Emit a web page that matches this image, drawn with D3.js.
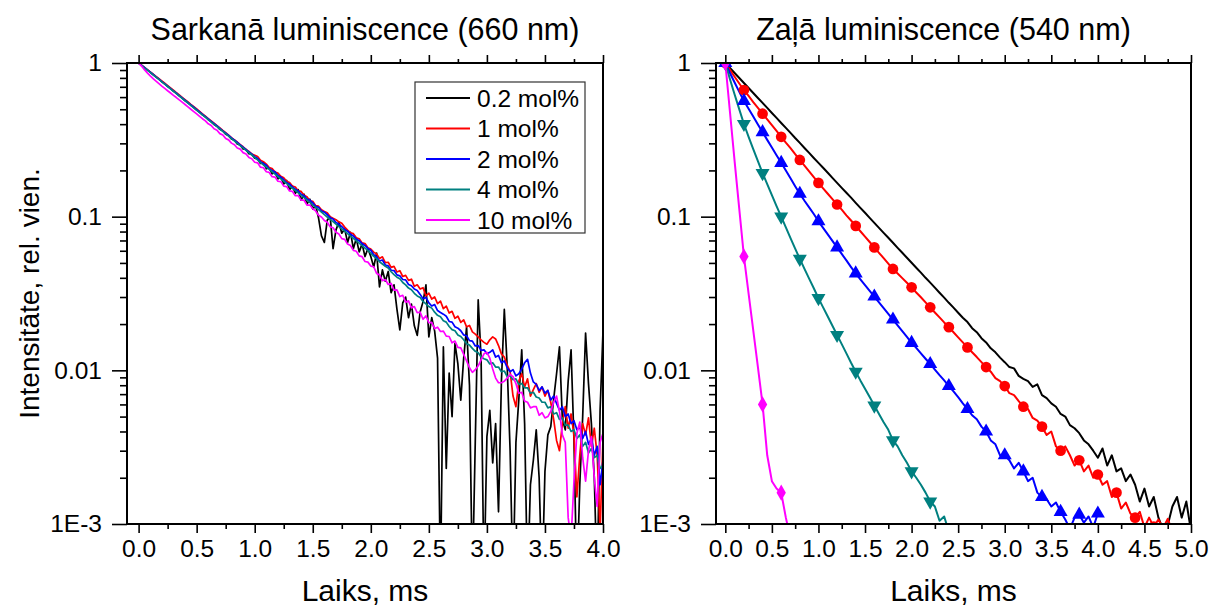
<!DOCTYPE html>
<meta charset="utf-8">
<style>
body { margin: 0; background: #fff; }
#chart svg text { font-family: "Liberation Sans", Arial, sans-serif; fill: #000; }
</style>
<div id="chart"></div>
<script src="https://d3js.org/d3.v7.min.js"></script>
<script>
// ---- data: left panel (red luminescence), sampled every 0.025 ms ----
var stepL = 0.025;
var black660 = [1, 0.967, 0.934, 0.903, 0.871, 0.842, 0.813, 0.786, 0.757, 0.733,
  0.706, 0.683, 0.657, 0.637, 0.612, 0.594, 0.57, 0.553, 0.531, 0.515,
  0.494, 0.48, 0.46, 0.447, 0.428, 0.416, 0.398, 0.388, 0.37, 0.362,
  0.344, 0.337, 0.32, 0.315, 0.297, 0.293, 0.276, 0.274, 0.257, 0.255,
  0.24, 0.238, 0.222, 0.225, 0.205, 0.208, 0.19, 0.196, 0.176, 0.182,
  0.163, 0.172, 0.15, 0.158, 0.142, 0.15, 0.128, 0.14, 0.121, 0.13,
  0.112, 0.118, 0.098, 0.075, 0.068, 0.095, 0.1, 0.062, 0.082, 0.092,
  0.078, 0.083, 0.068, 0.079, 0.062, 0.072, 0.059, 0.0665, 0.055, 0.062,
  0.055, 0.047, 0.058, 0.0349, 0.045, 0.038, 0.044, 0.032, 0.036, 0.025,
  0.0183, 0.0275, 0.03, 0.022, 0.027, 0.0195, 0.0169, 0.024, 0.028, 0.036,
  0.0165, 0.022, 0.018, 0.012, 0.0004, 0.0142, 0.0023, 0.0096, 0.005, 0.015,
  0.011, 0.0064, 0.012, 0.0191, 0.008, 0.0004, 0.0035, 0.0287, 0.012, 0.0004,
  0.0037, 0.0055, 0.0025, 0.0045, 0.0012, 0.0085, 0.0249, 0.0105, 0.003, 0.0004,
  0.0034, 0.0065, 0.0136, 0.0045, 0.0004, 0.0018, 0.0026, 0.0041, 0.002, 0.0004,
  0.0022, 0.0038, 0.0043, 0.0065, 0.0095, 0.0142, 0.0048, 0.0041, 0.0085, 0.0136,
  0.0035, 0.0004, 0.0018, 0.005, 0.0175, 0.0082, 0.0045, 0.002, 0.0004, 0.0055, 0.018];
var red660 = [1, 0.968, 0.936, 0.905, 0.875, 0.846, 0.818, 0.79, 0.764, 0.738,
  0.713, 0.688, 0.665, 0.642, 0.62, 0.598, 0.578, 0.558, 0.538, 0.52,
  0.502, 0.484, 0.467, 0.451, 0.435, 0.42, 0.406, 0.391, 0.378, 0.364,
  0.352, 0.339, 0.327, 0.316, 0.306, 0.294, 0.285, 0.274, 0.266, 0.256,
  0.251, 0.246, 0.233, 0.228, 0.22, 0.209, 0.206, 0.195, 0.192, 0.183,
  0.179, 0.17, 0.167, 0.158, 0.156, 0.147, 0.146, 0.138, 0.135, 0.127,
  0.126, 0.118, 0.117, 0.111, 0.108, 0.106, 0.1, 0.0975, 0.0955, 0.0925,
  0.0905, 0.0855, 0.0818, 0.0785, 0.0775, 0.0728, 0.0718, 0.0675, 0.0668, 0.0628,
  0.0615, 0.0588, 0.0572, 0.0535, 0.0548, 0.0502, 0.0505, 0.0468, 0.0475, 0.0436,
  0.0445, 0.0408, 0.0415, 0.0385, 0.0392, 0.0352, 0.036, 0.0338, 0.0345, 0.0305,
  0.0318, 0.0291, 0.03, 0.0272, 0.0282, 0.0252, 0.0262, 0.0236, 0.0242, 0.0218,
  0.0225, 0.0205, 0.0213, 0.0192, 0.0196, 0.0178, 0.0172, 0.0165, 0.0158, 0.0152,
  0.0148, 0.0158, 0.0165, 0.016, 0.0145, 0.0128, 0.0122, 0.0108, 0.0098, 0.0068,
  0.0058, 0.0085, 0.0095, 0.0078, 0.0088, 0.0068, 0.0075, 0.0082, 0.0072, 0.0078,
  0.0068, 0.0074, 0.0062, 0.0048, 0.0035, 0.003, 0.0045, 0.0058, 0.0042, 0.0052,
  0.0038, 0.0015, 0.0028, 0.0045, 0.0038, 0.0049, 0.0032, 0.0042, 0.0028, 0.0009, 0.0036];
var blue660 = [1, 0.966, 0.935, 0.902, 0.872, 0.842, 0.812, 0.785, 0.757, 0.731,
  0.706, 0.681, 0.658, 0.636, 0.614, 0.592, 0.572, 0.552, 0.533, 0.515,
  0.497, 0.48, 0.463, 0.447, 0.432, 0.417, 0.403, 0.389, 0.375, 0.362,
  0.35, 0.338, 0.326, 0.315, 0.304, 0.293, 0.283, 0.273, 0.264, 0.255,
  0.246, 0.239, 0.228, 0.222, 0.216, 0.205, 0.2, 0.195, 0.185, 0.181,
  0.174, 0.166, 0.163, 0.156, 0.151, 0.147, 0.14, 0.137, 0.13, 0.128,
  0.123, 0.117, 0.115, 0.109, 0.107, 0.103, 0.0985, 0.0965, 0.0915, 0.0895,
  0.0862, 0.0825, 0.0805, 0.0768, 0.0748, 0.0715, 0.0698, 0.0668, 0.065, 0.0622,
  0.0605, 0.0565, 0.0548, 0.0515, 0.0522, 0.0485, 0.0478, 0.0448, 0.0446, 0.0418,
  0.0412, 0.039, 0.0388, 0.0362, 0.0355, 0.0338, 0.0331, 0.0312, 0.0292, 0.0298,
  0.0275, 0.0262, 0.0268, 0.0245, 0.0238, 0.0232, 0.0225, 0.0208, 0.0206, 0.0192,
  0.0188, 0.0181, 0.017, 0.0168, 0.0156, 0.0155, 0.0144, 0.0145, 0.0135, 0.0136,
  0.0128, 0.0131, 0.0136, 0.0122, 0.0125, 0.0112, 0.0115, 0.0104, 0.0098, 0.0101,
  0.0092, 0.0095, 0.0102, 0.0112, 0.0118, 0.0096, 0.0084, 0.0081, 0.0074, 0.0078,
  0.0071, 0.0074, 0.0064, 0.0068, 0.0061, 0.0055, 0.0058, 0.005, 0.0052, 0.0045,
  0.0047, 0.0041, 0.0043, 0.0036, 0.004, 0.0033, 0.0036, 0.0028, 0.0032, 0.0018, 0.0026];
var teal660 = [1, 0.965, 0.93, 0.9, 0.868, 0.838, 0.81, 0.782, 0.754, 0.728,
  0.703, 0.678, 0.655, 0.632, 0.611, 0.589, 0.568, 0.549, 0.53, 0.511,
  0.493, 0.476, 0.46, 0.444, 0.428, 0.413, 0.399, 0.385, 0.372, 0.359,
  0.346, 0.334, 0.322, 0.311, 0.3, 0.29, 0.28, 0.27, 0.261, 0.252,
  0.242, 0.234, 0.225, 0.217, 0.21, 0.203, 0.196, 0.189, 0.182, 0.176,
  0.17, 0.164, 0.158, 0.153, 0.148, 0.143, 0.137, 0.133, 0.128, 0.124,
  0.119, 0.115, 0.111, 0.107, 0.103, 0.0995, 0.096, 0.0928, 0.0895, 0.0862,
  0.0833, 0.0805, 0.0775, 0.0748, 0.0722, 0.0697, 0.0672, 0.0648, 0.0625, 0.0603,
  0.0578, 0.0552, 0.0533, 0.0509, 0.0492, 0.0475, 0.0463, 0.0438, 0.0419, 0.0404,
  0.0394, 0.0373, 0.036, 0.0343, 0.0335, 0.0317, 0.0305, 0.0298, 0.0281, 0.0271,
  0.026, 0.0254, 0.0239, 0.0228, 0.0223, 0.021, 0.0206, 0.0193, 0.0184, 0.0181,
  0.017, 0.0166, 0.0158, 0.0149, 0.0146, 0.0139, 0.0133, 0.013, 0.0122, 0.0119,
  0.0117, 0.011, 0.0112, 0.0105, 0.0105, 0.0098, 0.0099, 0.0091, 0.0092, 0.0087,
  0.0088, 0.0081, 0.0082, 0.0077, 0.0077, 0.0071, 0.0072, 0.0067, 0.0066, 0.0062,
  0.0062, 0.0057, 0.0058, 0.0052, 0.0053, 0.0048, 0.0049, 0.0044, 0.0044, 0.004,
  0.0041, 0.0036, 0.0038, 0.0032, 0.0034, 0.0029, 0.0031, 0.0027, 0.0028, 0.0023, 0.0024];
var magenta660 = [1, 0.955, 0.905, 0.862, 0.824, 0.792, 0.762, 0.735, 0.708, 0.684,
  0.66, 0.638, 0.616, 0.596, 0.575, 0.556, 0.537, 0.518, 0.5, 0.483,
  0.466, 0.45, 0.434, 0.42, 0.402, 0.392, 0.373, 0.365, 0.347, 0.34,
  0.323, 0.316, 0.301, 0.294, 0.28, 0.275, 0.261, 0.256, 0.243, 0.238,
  0.226, 0.224, 0.21, 0.208, 0.196, 0.194, 0.182, 0.181, 0.17, 0.169,
  0.158, 0.157, 0.147, 0.146, 0.137, 0.137, 0.128, 0.128, 0.119, 0.119,
  0.1125, 0.109, 0.102, 0.0994, 0.0945, 0.0919, 0.0858, 0.0847, 0.0791, 0.0772,
  0.072, 0.0712, 0.0663, 0.0648, 0.0604, 0.0596, 0.0556, 0.0549, 0.0511, 0.0506,
  0.0477, 0.0472, 0.0427, 0.0418, 0.0383, 0.039, 0.0362, 0.0368, 0.0333, 0.0334,
  0.0302, 0.0308, 0.0278, 0.0283, 0.0255, 0.026, 0.0237, 0.0239, 0.0215, 0.0226,
  0.0204, 0.0205, 0.0187, 0.0191, 0.0179, 0.018, 0.0167, 0.0166, 0.0151, 0.0155,
  0.0141, 0.014, 0.0127, 0.0115, 0.0104, 0.0097, 0.0101, 0.0107, 0.0117, 0.0128,
  0.0131, 0.012, 0.0102, 0.0089, 0.0083, 0.0083, 0.0085, 0.0089, 0.0094, 0.0091,
  0.0082, 0.0071, 0.0072, 0.0063, 0.0062, 0.0057, 0.0058, 0.0058, 0.0051, 0.0053,
  0.0049, 0.005, 0.0054, 0.0062, 0.0068, 0.0054, 0.0038, 0.0034, 0.0011, 0.0008,
  0.0019, 0.0039, 0.0046, 0.0027, 0.0019, 0.003, 0.0037, 0.002, 0.0013, 0.0034, 0.0039];

// ---- data: right panel (green luminescence), sampled every 0.05 ms ----
var stepR = 0.05;
var black540 = [1, 0.928, 0.861, 0.799, 0.741, 0.688, 0.638, 0.592, 0.55, 0.51,
  0.473, 0.439, 0.407, 0.378, 0.351, 0.325, 0.302, 0.28, 0.26, 0.241,
  0.224, 0.208, 0.193, 0.179, 0.166, 0.154, 0.143, 0.133, 0.123, 0.114,
  0.106, 0.0983, 0.0912, 0.0846, 0.0785, 0.0729, 0.0676, 0.0627, 0.0582, 0.054,
  0.0501, 0.0465, 0.0432, 0.04, 0.0372, 0.0345, 0.032, 0.0297, 0.0275, 0.0256,
  0.0237, 0.022, 0.0206, 0.0188, 0.0177, 0.0162, 0.0152, 0.0139, 0.0131, 0.0121,
  0.0113, 0.0105, 0.0103, 0.0092, 0.0088, 0.0085, 0.0078, 0.0081, 0.0069, 0.0066,
  0.0061, 0.0058, 0.0052, 0.005, 0.0044, 0.0042, 0.0039, 0.0035, 0.0033, 0.003,
  0.0027, 0.0031, 0.0024, 0.0028, 0.0022, 0.0023, 0.0019, 0.0021, 0.0018, 0.0014,
  0.0017, 0.0013, 0.0015, 0.0011, 0.00092, 0.00098, 0.0013, 0.0015, 0.0011, 0.0014, 0.0009];
var red540 = [1, 0.902, 0.813, 0.736, 0.667, 0.61, 0.557, 0.511, 0.468, 0.429,
  0.394, 0.361, 0.331, 0.303, 0.279, 0.255, 0.234, 0.215, 0.197, 0.181,
  0.166, 0.153, 0.141, 0.13, 0.12, 0.111, 0.102, 0.0944, 0.0871, 0.0804,
  0.0741, 0.0684, 0.0631, 0.0582, 0.0537, 0.0495, 0.0457, 0.0427, 0.0398, 0.0372,
  0.0347, 0.0321, 0.0299, 0.0277, 0.0257, 0.0238, 0.0221, 0.0205, 0.0191, 0.0177,
  0.0164, 0.0152, 0.0141, 0.0131, 0.0122, 0.0113, 0.0105, 0.0098, 0.0089, 0.0085,
  0.0079, 0.0071, 0.0069, 0.0063, 0.0058, 0.0056, 0.0049, 0.0047, 0.0043, 0.0038,
  0.004, 0.0032, 0.003, 0.0032, 0.0028, 0.0024, 0.0026, 0.0022, 0.0024, 0.002,
  0.0021, 0.0018, 0.0019, 0.0015, 0.0016, 0.00126, 0.00138, 0.00117, 0.0011, 0.0012,
  0.00095, 0.0011, 0.00096, 0.00107, 0.00094, 0.00108, 0.0009];
var blue540 = [1, 0.861, 0.746, 0.649, 0.566, 0.504, 0.448, 0.398, 0.355, 0.316,
  0.282, 0.251, 0.224, 0.2, 0.178, 0.158, 0.141, 0.127, 0.115, 0.104,
  0.0933, 0.0846, 0.0767, 0.0695, 0.0631, 0.0572, 0.0519, 0.047, 0.0427, 0.0391,
  0.0359, 0.0329, 0.0302, 0.0277, 0.0254, 0.0233, 0.0214, 0.0196, 0.018, 0.0165,
  0.0151, 0.014, 0.0129, 0.0119, 0.011, 0.0101, 0.0093, 0.0086, 0.0079, 0.0073,
  0.0067, 0.0061, 0.0056, 0.0051, 0.0048, 0.0043, 0.004, 0.0035, 0.0033, 0.0028,
  0.0028, 0.0026, 0.0023, 0.0025, 0.0022, 0.0019, 0.002, 0.0016, 0.0015, 0.00145,
  0.0013, 0.00138, 0.0012, 0.00107, 0.00093, 0.0011, 0.00115, 0.00102, 0.00112, 0.00095, 0.00117];
var teal540 = [1, 0.785, 0.624, 0.499, 0.401, 0.331, 0.275, 0.23, 0.192, 0.163,
  0.138, 0.117, 0.1, 0.0851, 0.0724, 0.0619, 0.0531, 0.0457, 0.0395, 0.0342,
  0.0295, 0.0257, 0.0224, 0.0195, 0.017, 0.0148, 0.0129, 0.0112, 0.0098, 0.0086,
  0.0076, 0.0067, 0.0059, 0.0052, 0.0046, 0.0041, 0.0035, 0.0032, 0.0028, 0.0025,
  0.0022, 0.002, 0.0018, 0.0016, 0.0014, 0.0013, 0.00105, 0.00112, 0.00089];
var magenta540 = [1, 0.479, 0.229, 0.112, 0.055, 0.0316, 0.0182, 0.0105, 0.006, 0.0028,
  0.0019, 0.0017, 0.0016, 0.0011, 0.0008];

var seriesNames = ["0.2 mol%", "1 mol%", "2 mol%", "4 mol%", "10 mol%"];
var seriesColors = ["#000000", "#ff0000", "#0000ff", "#008080", "#ff00ff"];
var markerTypes = [null, d3.symbolCircle, d3.symbolTriangle, "down", d3.symbolDiamond];

var yTickVals = [1, 0.1, 0.01, 0.001];
var yTickLabels = ["1", "0.1", "0.01", "1E-3"];
var xMajorLeft = [0, 0.5, 1, 1.5, 2, 2.5, 3, 3.5, 4];
var xMajorRight = [0, 0.5, 1, 1.5, 2, 2.5, 3, 3.5, 4, 4.5, 5];
var xMinorLeft = [0.25, 0.75, 1.25, 1.75, 2.25, 2.75, 3.25, 3.75];
var xMinorRight = [0.25, 0.75, 1.25, 1.75, 2.25, 2.75, 3.25, 3.75, 4.25, 4.75];

var W = 1210, H = 606;
var top_ = 63, bottom_ = 524;

var svg = d3.select("#chart").append("svg")
  .attr("width", W).attr("height", H);

var y = d3.scaleLog().domain([0.001, 1]).range([bottom_, top_]);
var yMinor = y.ticks().filter(function(d) { return yTickVals.indexOf(d) < 0; });

function drawPanel(cfg) {
  var x = d3.scaleLinear().domain([-0.1, cfg.xmax]).range([cfg.x0, cfg.x1]);
  var g = svg.append("g");

  g.append("clipPath").attr("id", cfg.id + "-clip")
    .append("rect")
    .attr("x", cfg.x0).attr("y", top_)
    .attr("width", cfg.x1 - cfg.x0).attr("height", bottom_ - top_);

  var plot = g.append("g").attr("clip-path", "url(#" + cfg.id + "-clip)");
  var line = d3.line()
    .x(function(d, i) { return x(i * cfg.step); })
    .y(function(d) { return y(d); });

  cfg.series.forEach(function(s, k) {
    plot.append("path")
      .datum(s)
      .attr("fill", "none")
      .attr("stroke", seriesColors[k])
      .attr("stroke-width", cfg.lw)
      .attr("stroke-linejoin", "round")
      .attr("d", line);
  });

  if (cfg.markers) {
    cfg.series.forEach(function(s, k) {
      var type = markerTypes[k];
      if (!type) return;
      var flip = type === "down";
      var sym = d3.symbol()
        .type(flip ? d3.symbolTriangle : type)
        .size(type === d3.symbolCircle ? 90 : (type === d3.symbolDiamond ? 75 : 85));
      var pts = s.map(function(v, i) { return [i * cfg.step, v, i]; })
        .filter(function(p) { return p[2] % 4 === 0; });
      plot.selectAll(null)
        .data(pts)
        .enter()
        .append("path")
        .attr("d", sym)
        .attr("fill", seriesColors[k])
        .attr("transform", function(p) {
          return "translate(" + x(p[0]) + "," + y(p[1]) + ")" + (flip ? " rotate(180)" : "");
        });
    });
  }

  // axes
  var fmt = d3.format(".1f");
  var axB = g.append("g").attr("transform", "translate(0," + bottom_ + ")")
    .call(d3.axisBottom(x).tickValues(cfg.major).tickSize(9).tickPadding(7).tickFormat(fmt));
  var axBm = g.append("g").attr("transform", "translate(0," + bottom_ + ")")
    .call(d3.axisBottom(x).tickValues(cfg.minor).tickSize(5).tickFormat(""));
  var axT = g.append("g").attr("transform", "translate(0," + top_ + ")")
    .call(d3.axisTop(x).tickValues(cfg.major).tickSize(8).tickFormat(""));
  var axTm = g.append("g").attr("transform", "translate(0," + top_ + ")")
    .call(d3.axisTop(x).tickValues(cfg.minor).tickSize(4).tickFormat(""));
  var axL = g.append("g").attr("transform", "translate(" + cfg.x0 + ",0)")
    .call(d3.axisLeft(y).tickValues(yTickVals).tickSize(15).tickPadding(10)
      .tickFormat(function(d, i) { return yTickLabels[i]; }));
  var axLm = g.append("g").attr("transform", "translate(" + cfg.x0 + ",0)")
    .call(d3.axisLeft(y).tickValues(yMinor).tickSize(7).tickFormat(""));

  [axB, axBm, axT, axTm, axL, axLm].forEach(function(a) {
    a.select(".domain").remove();
    a.attr("font-size", 24.5).attr("font-family", "Liberation Sans, Arial, sans-serif");
    a.selectAll("line").attr("stroke", "#000").attr("stroke-width", 1.6);
  });

  g.append("rect")
    .attr("x", cfg.x0).attr("y", top_)
    .attr("width", cfg.x1 - cfg.x0).attr("height", bottom_ - top_)
    .attr("fill", "none").attr("stroke", "#000").attr("stroke-width", 2);

  g.append("text")
    .attr("x", (cfg.x0 + cfg.x1) / 2 + cfg.titleShift).attr("y", 40)
    .attr("text-anchor", "middle").attr("font-size", 30.5)
    .text(cfg.title);

  g.append("text")
    .attr("x", (cfg.x0 + cfg.x1) / 2).attr("y", 601)
    .attr("text-anchor", "middle").attr("font-size", 30)
    .text("Laiks, ms");

  return x;
}

drawPanel({
  id: "red", x0: 127, x1: 603, xmax: 4.0, step: stepL, lw: 1.7,
  major: xMajorLeft, minor: xMinorLeft, markers: false, titleShift: 0,
  title: "Sarkanā luminiscence (660 nm)",
  series: [black660, red660, blue660, teal660, magenta660]
});

drawPanel({
  id: "green", x0: 716, x1: 1191, xmax: 5.0, step: stepR, lw: 2,
  major: xMajorRight, minor: xMinorRight, markers: true, titleShift: -10,
  title: "Zaļā luminiscence (540 nm)",
  series: [black540, red540, blue540, teal540, magenta540]
});

// y axis title
svg.append("text")
  .attr("transform", "translate(39," + ((top_ + bottom_) / 2) + ") rotate(-90)")
  .attr("text-anchor", "middle").attr("font-size", 28)
  .text("Intensitāte, rel. vien.");

// legend (left panel)
var legend = svg.append("g").attr("transform", "translate(415,82)");
legend.append("rect")
  .attr("width", 170).attr("height", 151)
  .attr("fill", "#fff").attr("stroke", "#333").attr("stroke-width", 1.2);
seriesNames.forEach(function(name, k) {
  var ry = 16 + k * 30.5;
  legend.append("line")
    .attr("x1", 11).attr("x2", 55).attr("y1", ry).attr("y2", ry)
    .attr("stroke", seriesColors[k]).attr("stroke-width", 2);
  legend.append("text")
    .attr("x", 62).attr("y", ry + 8.5)
    .attr("font-size", 24.5)
    .text(name);
});
</script>
